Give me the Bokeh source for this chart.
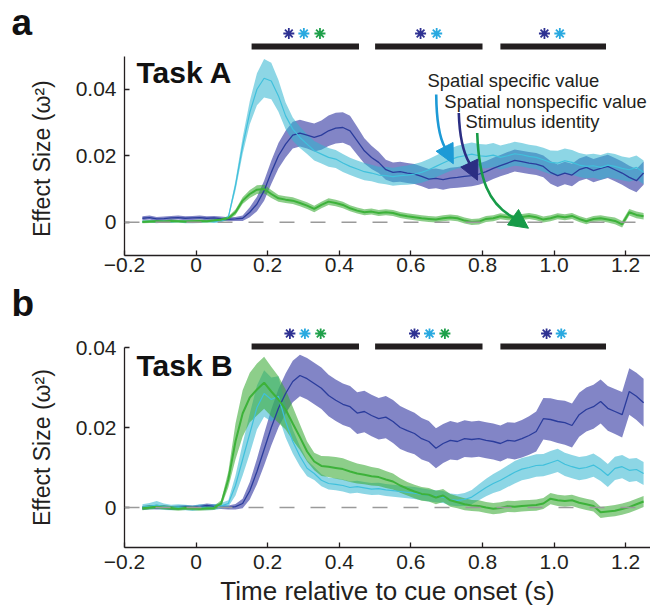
import numpy as np
from bokeh.plotting import figure
from bokeh.layouts import column
from bokeh.models import Span, Label, FixedTicker, Arrow, NormalHead
from bokeh.embed import file_html
from bokeh.resources import INLINE

# ---------------- data ----------------
time_s = [-0.15, -0.13, -0.11, -0.09, -0.07, -0.05, -0.03, -0.01, 0.01, 0.03,
          0.05, 0.07, 0.09, 0.11, 0.13, 0.15, 0.17, 0.19, 0.21, 0.23,
          0.25, 0.27, 0.29, 0.31, 0.33, 0.35, 0.37, 0.39, 0.41, 0.43,
          0.45, 0.47, 0.49, 0.51, 0.53, 0.55, 0.57, 0.59, 0.61, 0.63,
          0.65, 0.67, 0.69, 0.71, 0.73, 0.75, 0.77, 0.79, 0.81, 0.83,
          0.85, 0.87, 0.89, 0.91, 0.93, 0.95, 0.97, 0.99, 1.01, 1.03,
          1.05, 1.07, 1.09, 1.11, 1.13, 1.15, 1.17, 1.19, 1.21, 1.23,
          1.25]

# Task A
a_spec_mean = [0.0002, 0.0003, 0.0002, 0.0003, 0.0002, 0.0003, 0.0002, 0.0001, 0.0002, 0.0003,
               0.0002, 0.0003, 0.0015, 0.0110, 0.0230, 0.0330, 0.0400, 0.0433, 0.0425, 0.0380,
               0.0320, 0.0280, 0.0255, 0.0235, 0.0215, 0.0205, 0.0195, 0.0190, 0.0178, 0.0168,
               0.0160, 0.0152, 0.0148, 0.0142, 0.0140, 0.0137, 0.0140, 0.0142, 0.0145, 0.0150,
               0.0158, 0.0168, 0.0178, 0.0188, 0.0196, 0.0200, 0.0205, 0.0200, 0.0198, 0.0202,
               0.0195, 0.0200, 0.0206, 0.0203, 0.0198, 0.0195, 0.0188, 0.0180, 0.0178, 0.0185,
               0.0180, 0.0172, 0.0168, 0.0170, 0.0165, 0.0172, 0.0168, 0.0162, 0.0158, 0.0165,
               0.0150]
a_spec_sem = [0.0004, 0.0004, 0.0005, 0.0004, 0.0004, 0.0004, 0.0005, 0.0004, 0.0004, 0.0004,
              0.0004, 0.0004, 0.0006, 0.0015, 0.0025, 0.0035, 0.0048, 0.0058, 0.0055, 0.0048,
              0.0040, 0.0035, 0.0032, 0.0030, 0.0029, 0.0028, 0.0028, 0.0027, 0.0027, 0.0026,
              0.0026, 0.0026, 0.0025, 0.0025, 0.0026, 0.0027, 0.0028, 0.0029, 0.0030, 0.0031,
              0.0032, 0.0033, 0.0033, 0.0034, 0.0034, 0.0035, 0.0035, 0.0035, 0.0036, 0.0036,
              0.0036, 0.0036, 0.0036, 0.0035, 0.0035, 0.0035, 0.0036, 0.0036, 0.0037, 0.0037,
              0.0037, 0.0036, 0.0036, 0.0036, 0.0037, 0.0037, 0.0037, 0.0036, 0.0036, 0.0036,
              0.0036]
a_nonspec_mean = [0.0012, 0.0014, 0.0010, 0.0011, 0.0013, 0.0014, 0.0012, 0.0013, 0.0014, 0.0012,
                  0.0013, 0.0011, 0.0009, 0.0010, 0.0012, 0.0030, 0.0055, 0.0095, 0.0150, 0.0200,
                  0.0235, 0.0262, 0.0268, 0.0262, 0.0255, 0.0262, 0.0275, 0.0283, 0.0285, 0.0275,
                  0.0245, 0.0215, 0.0195, 0.0180, 0.0158, 0.0150, 0.0152, 0.0148, 0.0145, 0.0138,
                  0.0130, 0.0132, 0.0128, 0.0133, 0.0135, 0.0138, 0.0140, 0.0145, 0.0152, 0.0162,
                  0.0170, 0.0178, 0.0186, 0.0182, 0.0178, 0.0175, 0.0168, 0.0150, 0.0140, 0.0148,
                  0.0142, 0.0158, 0.0165, 0.0155, 0.0162, 0.0168, 0.0158, 0.0148, 0.0135, 0.0125,
                  0.0148]
a_nonspec_sem = [0.0006, 0.0006, 0.0006, 0.0006, 0.0006, 0.0006, 0.0006, 0.0006, 0.0006, 0.0006,
                 0.0006, 0.0006, 0.0006, 0.0006, 0.0008, 0.0015, 0.0022, 0.0030, 0.0035, 0.0038,
                 0.0040, 0.0040, 0.0040, 0.0040, 0.0042, 0.0044, 0.0046, 0.0046, 0.0046, 0.0045,
                 0.0042, 0.0038, 0.0035, 0.0032, 0.0030, 0.0030, 0.0030, 0.0030, 0.0030, 0.0030,
                 0.0030, 0.0030, 0.0030, 0.0031, 0.0031, 0.0032, 0.0032, 0.0032, 0.0032, 0.0032,
                 0.0032, 0.0033, 0.0033, 0.0033, 0.0033, 0.0033, 0.0033, 0.0034, 0.0034, 0.0034,
                 0.0034, 0.0034, 0.0034, 0.0035, 0.0035, 0.0035, 0.0035, 0.0035, 0.0035, 0.0035,
                 0.0035]
a_stim_mean = [0.0001, 0.0002, 0.0003, 0.0002, 0.0004, 0.0003, 0.0002, 0.0003, 0.0004, 0.0003,
               0.0005, 0.0008, 0.0012, 0.0030, 0.0065, 0.0085, 0.0098, 0.0100, 0.0085, 0.0072,
               0.0068, 0.0065, 0.0058, 0.0050, 0.0040, 0.0052, 0.0062, 0.0058, 0.0052, 0.0042,
               0.0035, 0.0030, 0.0032, 0.0028, 0.0030, 0.0028, 0.0022, 0.0018, 0.0015, 0.0012,
               0.0010, 0.0008, 0.0012, 0.0014, 0.0012, 0.0005, 0.0001, 0.0002, 0.0010, 0.0012,
               0.0018, 0.0015, 0.0012, 0.0016, 0.0019, 0.0015, 0.0008, 0.0012, 0.0018, 0.0015,
               0.0019, 0.0010, 0.0003, 0.0010, 0.0012, 0.0008, 0.0004, -0.0006, 0.0030, 0.0022,
               0.0018]
a_stim_sem = [0.0004, 0.0004, 0.0004, 0.0004, 0.0004, 0.0004, 0.0004, 0.0004, 0.0004, 0.0004,
              0.0004, 0.0004, 0.0005, 0.0008, 0.0010, 0.0012, 0.0013, 0.0013, 0.0012, 0.0010,
              0.0010, 0.0010, 0.0010, 0.0010, 0.0010, 0.0010, 0.0010, 0.0010, 0.0010, 0.0009,
              0.0009, 0.0009, 0.0009, 0.0009, 0.0009, 0.0009, 0.0009, 0.0009, 0.0009, 0.0009,
              0.0009, 0.0009, 0.0009, 0.0009, 0.0009, 0.0009, 0.0009, 0.0009, 0.0009, 0.0009,
              0.0009, 0.0009, 0.0009, 0.0009, 0.0009, 0.0009, 0.0009, 0.0009, 0.0009, 0.0009,
              0.0009, 0.0009, 0.0009, 0.0009, 0.0009, 0.0009, 0.0010, 0.0010, 0.0010, 0.0010,
              0.0010]

# Task B
b_spec_mean = [0.0001, 0.0003, 0.0006, 0.0002, 0.0000, 0.0001, 0.0000, -0.0002, 0.0001, 0.0000,
               0.0001, 0.0004, 0.0010, 0.0055, 0.0120, 0.0185, 0.0250, 0.0285, 0.0270, 0.0278,
               0.0215, 0.0165, 0.0128, 0.0098, 0.0085, 0.0068, 0.0060, 0.0058, 0.0055, 0.0050,
               0.0052, 0.0049, 0.0046, 0.0047, 0.0044, 0.0042, 0.0040, 0.0038, 0.0036, 0.0033,
               0.0030, 0.0028, 0.0026, 0.0020, 0.0018, 0.0020, 0.0026, 0.0038, 0.0050, 0.0060,
               0.0068, 0.0078, 0.0088, 0.0096, 0.0100, 0.0105, 0.0106, 0.0112, 0.0118, 0.0108,
               0.0102, 0.0097, 0.0100, 0.0106, 0.0095, 0.0080, 0.0098, 0.0102, 0.0093, 0.0095,
               0.0085]
b_spec_sem = [0.0007, 0.0008, 0.0010, 0.0008, 0.0007, 0.0007, 0.0007, 0.0007, 0.0007, 0.0007,
              0.0007, 0.0007, 0.0008, 0.0025, 0.0040, 0.0050, 0.0055, 0.0058, 0.0055, 0.0050,
              0.0040, 0.0030, 0.0025, 0.0020, 0.0016, 0.0015, 0.0015, 0.0015, 0.0015, 0.0015,
              0.0015, 0.0015, 0.0015, 0.0015, 0.0015, 0.0015, 0.0015, 0.0015, 0.0015, 0.0015,
              0.0015, 0.0015, 0.0015, 0.0015, 0.0015, 0.0016, 0.0018, 0.0020, 0.0022, 0.0024,
              0.0026, 0.0027, 0.0028, 0.0028, 0.0028, 0.0028, 0.0028, 0.0029, 0.0029, 0.0029,
              0.0029, 0.0029, 0.0029, 0.0029, 0.0029, 0.0029, 0.0029, 0.0029, 0.0029, 0.0029,
              0.0029]
b_nonspec_mean = [-0.0001, 0.0001, 0.0000, 0.0001, -0.0001, 0.0000, 0.0001, 0.0000, 0.0002, 0.0005,
                  0.0003, 0.0001, 0.0000, 0.0002, 0.0010, 0.0042, 0.0090, 0.0145, 0.0200, 0.0248,
                  0.0285, 0.0315, 0.0330, 0.0322, 0.0310, 0.0298, 0.0280, 0.0268, 0.0258, 0.0252,
                  0.0236, 0.0240, 0.0230, 0.0222, 0.0226, 0.0215, 0.0200, 0.0192, 0.0185, 0.0172,
                  0.0165, 0.0148, 0.0160, 0.0168, 0.0165, 0.0172, 0.0170, 0.0172, 0.0168, 0.0165,
                  0.0160, 0.0168, 0.0166, 0.0172, 0.0180, 0.0190, 0.0222, 0.0220, 0.0215, 0.0212,
                  0.0205, 0.0232, 0.0245, 0.0252, 0.0265, 0.0248, 0.0240, 0.0232, 0.0290, 0.0278,
                  0.0262]
b_nonspec_sem = [0.0005, 0.0005, 0.0005, 0.0005, 0.0005, 0.0005, 0.0005, 0.0005, 0.0005, 0.0005,
                 0.0005, 0.0005, 0.0005, 0.0007, 0.0012, 0.0022, 0.0032, 0.0040, 0.0045, 0.0048,
                 0.0050, 0.0052, 0.0052, 0.0052, 0.0052, 0.0052, 0.0052, 0.0052, 0.0052, 0.0052,
                 0.0052, 0.0052, 0.0052, 0.0052, 0.0053, 0.0054, 0.0054, 0.0053, 0.0052, 0.0052,
                 0.0051, 0.0050, 0.0049, 0.0048, 0.0047, 0.0046, 0.0045, 0.0045, 0.0045, 0.0045,
                 0.0045, 0.0045, 0.0046, 0.0047, 0.0048, 0.0050, 0.0052, 0.0053, 0.0054, 0.0055,
                 0.0055, 0.0055, 0.0055, 0.0055, 0.0055, 0.0056, 0.0056, 0.0057, 0.0058, 0.0059,
                 0.0060]
b_stim_mean = [-0.0002, 0.0000, 0.0002, 0.0000, -0.0001, -0.0003, -0.0001, -0.0002, -0.0003, -0.0002,
               -0.0001, 0.0010, 0.0070, 0.0165, 0.0235, 0.0275, 0.0295, 0.0312, 0.0290, 0.0270,
               0.0245, 0.0210, 0.0176, 0.0140, 0.0115, 0.0104, 0.0102, 0.0099, 0.0096, 0.0090,
               0.0085, 0.0082, 0.0078, 0.0076, 0.0070, 0.0065, 0.0055, 0.0047, 0.0040, 0.0034,
               0.0032, 0.0025, 0.0030, 0.0018, 0.0013, 0.0008, 0.0005, 0.0004, 0.0000, -0.0003,
               -0.0001, 0.0003, 0.0002, 0.0004, 0.0005, 0.0006, 0.0010, 0.0022, 0.0018, 0.0016,
               0.0018, 0.0012, 0.0008, 0.0004, -0.0012, -0.0010, -0.0008, -0.0004, 0.0001, 0.0008,
               0.0015]
b_stim_sem = [0.0005, 0.0005, 0.0005, 0.0005, 0.0005, 0.0005, 0.0005, 0.0005, 0.0005, 0.0005,
              0.0005, 0.0008, 0.0020, 0.0045, 0.0058, 0.0062, 0.0065, 0.0065, 0.0062, 0.0058,
              0.0050, 0.0042, 0.0032, 0.0025, 0.0022, 0.0025, 0.0026, 0.0027, 0.0027, 0.0026,
              0.0025, 0.0024, 0.0023, 0.0022, 0.0021, 0.0020, 0.0018, 0.0017, 0.0017, 0.0017,
              0.0017, 0.0017, 0.0016, 0.0016, 0.0015, 0.0015, 0.0014, 0.0014, 0.0014, 0.0014,
              0.0014, 0.0014, 0.0014, 0.0014, 0.0014, 0.0014, 0.0014, 0.0014, 0.0014, 0.0014,
              0.0014, 0.0014, 0.0014, 0.0014, 0.0014, 0.0014, 0.0014, 0.0014, 0.0014, 0.0014,
              0.0014]

# significance windows and stars
sig_start = [0.155, 0.50, 0.85]
sig_end = [0.455, 0.80, 1.145]
a_star_t = [0.259, 0.301, 0.346, 0.627, 0.672, 0.973, 1.016]
a_star_kind = ["nonspec", "spec", "stim", "nonspec", "spec", "nonspec", "spec"]
b_star_t = [0.262, 0.304, 0.348, 0.610, 0.652, 0.695, 0.979, 1.020]
b_star_kind = ["nonspec", "spec", "stim", "nonspec", "spec", "stim", "nonspec", "spec"]

x_ticks = [-0.2, 0.0, 0.2, 0.4, 0.6, 0.8, 1.0, 1.2]
x_tick_labels = ["\u22120.2", "0", "0.2", "0.4", "0.6", "0.8", "1.0", "1.2"]
y_ticks = [0.0, 0.02, 0.04]
y_tick_labels = ["0", "0.02", "0.04"]

legend_names = ["Spatial specific value", "Spatial nonspecific value", "Stimulus identity"]

# ---------------- styles ----------------
FONT = "Liberation Sans"
INK = "#231f20"
band_col = {"nonspec": "#3f43a8", "spec": "#2fb5d0", "stim": "#3aaa35"}
band_alpha = {"nonspec": 0.65, "spec": 0.55, "stim": 0.58}
line_col = {"nonspec": "#2a3c9c", "spec": "#40c0dc", "stim": "#3db23a"}
line_w = {"nonspec": 1.3, "spec": 1.2, "stim": 2.0}
star_col = {"nonspec": "#2e3192", "spec": "#29a9e0", "stim": "#1fa04a"}
arrow_col = {"spec": "#1d9ad6", "nonspec": "#2b2e83", "stim": "#179b48"}

W = 650
LEFT = 124
PX_PER_S = 358.0
X_END = -0.2 + (W - LEFT) / PX_PER_S
X_START_FULL = -0.2 - LEFT / PX_PER_S
NBSP = "\u00a0"
BASE_SHIFT = 0.35  # label anchor sits this fraction of the font size above its rendered baseline


def style_common(p):
    p.outline_line_color = None
    p.background_fill_color = "white"
    p.border_fill_color = "white"
    p.xgrid.visible = False
    p.ygrid.visible = False
    p.frame_align = False


def text_label(x, y, text, size, bold=False, x_offset=0):
    return Label(x=x, y=y, x_offset=x_offset, y_offset=BASE_SHIFT * size, text=text,
                 text_font=FONT, text_font_size=f"{size}px",
                 text_font_style="bold" if bold else "normal",
                 text_color="#111111" if bold else INK, text_baseline="alphabetic")


def draw_sig(p, bar_y, star_t, star_kind, star_y):
    if bar_y is not None:
        p.segment(x0=sig_start, y0=[bar_y] * len(sig_start), x1=sig_end, y1=[bar_y] * len(sig_end),
                  line_color=INK, line_width=6, line_cap="butt")
    if star_t is not None:
        p.scatter(x=star_t, y=[star_y] * len(star_t), marker="asterisk", size=11,
                  line_width=1.8, line_color=[star_col[k] for k in star_kind])


def make_header(height, letter, letter_y, star_t=None, star_kind=None, star_y=None, bar_y=None):
    p = figure(width=W, height=height, output_backend="svg", toolbar_location=None,
               x_range=(X_START_FULL, X_END), y_range=(0, height),
               min_border_left=0, min_border_right=0, min_border_top=0, min_border_bottom=0,
               x_axis_type=None, y_axis_type=None)
    style_common(p)
    draw_sig(p, bar_y, star_t, star_kind, star_y)
    p.add_layout(text_label(X_START_FULL + 11 / PX_PER_S, letter_y, letter, 37, bold=True))
    return p


def make_main(task, series, height, frame_h, px_per_unit, y_top_axis, mb_bottom, tick_standoff,
              task_y, show_xlabel, ylabel_pad, bar_y=None, star_t=None, star_kind=None, star_y=None):
    y_end = -0.01 + frame_h / px_per_unit
    p = figure(width=W, height=height, output_backend="svg", toolbar_location=None,
               x_range=(-0.2, X_END), y_range=(-0.01, y_end),
               min_border_left=LEFT, min_border_right=0, min_border_top=0,
               min_border_bottom=mb_bottom)
    style_common(p)

    for ax in (p.xaxis[0], p.yaxis[0]):
        ax.axis_line_color = INK
        ax.axis_line_width = 1.3
        ax.major_tick_line_color = INK
        ax.major_tick_line_width = 1.3
        ax.major_tick_in = 5
        ax.major_tick_out = 0
        ax.minor_tick_line_color = None
        ax.major_label_text_font = FONT
        ax.major_label_text_font_size = "21px"
        ax.major_label_text_color = INK

    p.xaxis.ticker = FixedTicker(ticks=x_ticks)
    p.xaxis.major_label_overrides = dict(zip(x_ticks, x_tick_labels))
    p.xaxis.major_label_standoff = tick_standoff
    p.yaxis.ticker = FixedTicker(ticks=y_ticks)
    p.yaxis.major_label_overrides = dict(zip(y_ticks, y_tick_labels))
    p.yaxis.major_label_standoff = 8
    p.yaxis.bounds = (-0.01, y_top_axis)
    # trailing no-break spaces move the centred label down along the axis
    p.yaxis.axis_label = "Effect Size (\u03c9\u00b2)" + NBSP * ylabel_pad
    p.yaxis.axis_label_text_font = FONT
    p.yaxis.axis_label_text_font_size = "23px"
    p.yaxis.axis_label_text_font_style = "normal"
    p.yaxis.axis_label_text_color = INK
    p.yaxis.axis_label_standoff = 18

    if show_xlabel:
        p.xaxis.axis_label = "Time relative to cue onset (s)"
        p.xaxis.axis_label_text_font = FONT
        p.xaxis.axis_label_text_font_size = "26px"
        p.xaxis.axis_label_text_font_style = "normal"
        p.xaxis.axis_label_text_color = INK
        p.xaxis.axis_label_standoff = 4

    p.add_layout(Span(location=0, dimension="width", line_color="#9a9a9a",
                      line_width=1.3, line_dash="15 16"))

    t = np.array(time_s)
    order = ["nonspec", "spec", "stim"]
    for k in order:
        m, s = np.array(series[k][0]), np.array(series[k][1])
        p.varea(x=t, y1=m - s, y2=m + s, fill_color=band_col[k], fill_alpha=band_alpha[k])
    for k in order:
        m = np.array(series[k][0])
        p.line(t, m, line_color=line_col[k], line_width=line_w[k])

    draw_sig(p, bar_y, star_t, star_kind, star_y)

    p.add_layout(text_label(-0.2, task_y, task, 30, bold=True, x_offset=12))
    return p


# Panel a: header 0..55 (letter, stars, bars), main 55..281 (frame 55..255)
ha = make_header(55, "a", letter_y=20, star_t=a_star_t, star_kind=a_star_kind, star_y=22, bar_y=9)
pa = make_main("Task A",
               {"spec": (a_spec_mean, a_spec_sem), "nonspec": (a_nonspec_mean, a_nonspec_sem),
                "stim": (a_stim_mean, a_stim_sem)},
               height=226, frame_h=200, px_per_unit=3325.0, y_top_axis=0.05, mb_bottom=26,
               tick_standoff=2, task_y=0.0418, show_xlabel=False, ylabel_pad=1)

# Panel b: header 281..328 (letter), main 328..614 (frame 328..547)
hb = make_header(47, "b", letter_y=12.5)
pb = make_main("Task B",
               {"spec": (b_spec_mean, b_spec_sem), "nonspec": (b_nonspec_mean, b_nonspec_sem),
                "stim": (b_stim_mean, b_stim_sem)},
               height=286, frame_h=219, px_per_unit=4000.0, y_top_axis=0.04, mb_bottom=67,
               tick_standoff=7, task_y=0.0330, show_xlabel=True, ylabel_pad=3,
               bar_y=0.04025, star_t=b_star_t, star_kind=b_star_kind, star_y=0.0435)

# legend-like annotation with curved arrows (panel a)
legend_pos = [(0.6464, 0.0406), (0.6935, 0.0344), (0.7525, 0.0284)]
for name, (lx, ly) in zip(legend_names, legend_pos):
    pa.add_layout(text_label(lx, ly, name, 18.4))

arrows = {
    "spec": [(0.6707, 0.03841), (0.6715, 0.03000), (0.6790, 0.02560), (0.6950, 0.02250), (0.7185, 0.01760)],
    "nonspec": [(0.7338, 0.03287), (0.7358, 0.02586), (0.7441, 0.02135), (0.7637, 0.01774), (0.7860, 0.01263)],
    "stim": [(0.7852, 0.02686), (0.7900, 0.01300), (0.8150, 0.00550), (0.8894, 0.00120), (0.9285, -0.00180)],
}
for k, pts in arrows.items():
    (x0, y0), (cx0, cy0), (cx1, cy1), (x1, y1), (xt, yt) = pts
    pa.bezier(x0=[x0], y0=[y0], x1=[x1], y1=[y1], cx0=[cx0], cy0=[cy0], cx1=[cx1], cy1=[cy1],
              line_color=arrow_col[k], line_width=2.6)
    pa.add_layout(Arrow(x_start=x1, y_start=y1, x_end=xt, y_end=yt, line_color=arrow_col[k],
                        line_width=2.6,
                        end=NormalHead(size=19, fill_color=arrow_col[k], line_color=arrow_col[k])))

layout = column(ha, pa, hb, pb, spacing=0)
open("out.html", "w").write(file_html(layout, INLINE))
